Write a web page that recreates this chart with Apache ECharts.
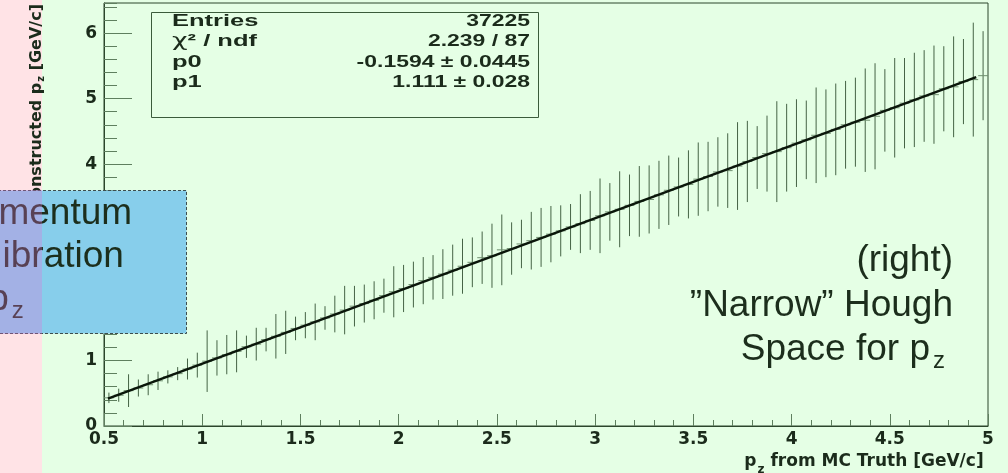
<!DOCTYPE html>
<html><head><meta charset="utf-8">
<script src="https://cdn.jsdelivr.net/npm/echarts@6/dist/echarts.min.js"></script>
<style>html,body{margin:0;padding:0;background:#e5ffe5;}#c{width:1008px;height:473px;}</style>
</head><body><div id="c"></div>
<script>
// ---- data ----
const binCenters = [
 0.525,0.575,0.625,0.675,0.725,0.775,0.825,0.875,0.925,0.975,
 1.025,1.075,1.125,1.175,1.225,1.275,1.325,1.375,1.425,1.475,
 1.525,1.575,1.625,1.675,1.725,1.775,1.825,1.875,1.925,1.975,
 2.025,2.075,2.125,2.175,2.225,2.275,2.325,2.375,2.425,2.475,
 2.525,2.575,2.625,2.675,2.725,2.775,2.825,2.875,2.925,2.975,
 3.025,3.075,3.125,3.175,3.225,3.275,3.325,3.375,3.425,3.475,
 3.525,3.575,3.625,3.675,3.725,3.775,3.825,3.875,3.925,3.975,
 4.025,4.075,4.125,4.175,4.225,4.275,4.325,4.375,4.425,4.475,
 4.525,4.575,4.625,4.675,4.725,4.775,4.825,4.875,4.925,4.975];
const means = [
 0.43,0.47,0.54,0.58,0.63,0.69,0.75,0.80,0.87,0.93,
 0.99,1.04,1.09,1.14,1.21,1.25,1.32,1.37,1.43,1.49,
 1.54,1.59,1.65,1.71,1.77,1.83,1.87,1.92,1.99,2.05,
 2.10,2.16,2.22,2.27,2.32,2.38,2.44,2.50,2.57,2.60,
 2.69,2.71,2.78,2.83,2.88,2.93,2.98,3.04,3.09,3.14,
 3.21,3.27,3.31,3.37,3.43,3.46,3.53,3.60,3.65,3.69,
 3.77,3.81,3.88,3.90,3.97,4.04,4.10,4.16,4.19,4.25,
 4.32,4.37,4.44,4.47,4.53,4.60,4.64,4.67,4.73,4.82,
 4.86,4.93,4.98,5.04,5.06,5.15,5.18,5.26,5.29,5.35];
const errors = [
 0.08,0.10,0.25,0.13,0.16,0.14,0.10,0.10,0.16,0.19,
 0.47,0.27,0.30,0.32,0.17,0.25,0.18,0.34,0.33,0.18,
 0.20,0.28,0.18,0.28,0.37,0.31,0.29,0.29,0.26,0.39,
 0.36,0.35,0.36,0.34,0.38,0.39,0.42,0.38,0.40,0.49,
 0.54,0.40,0.37,0.44,0.45,0.43,0.39,0.35,0.45,0.45,
 0.57,0.44,0.58,0.47,0.54,0.52,0.52,0.53,0.45,0.52,
 0.56,0.53,0.53,0.57,0.67,0.62,0.48,0.58,0.77,0.67,
 0.67,0.60,0.73,0.67,0.70,0.67,0.68,0.79,0.81,0.63,
 0.76,0.69,0.72,0.70,0.75,0.65,0.77,0.65,0.87,0.68];
const fitLine = [[0.52, 0.418], [4.94, 5.329]];
const statLabels = ['Entries', '{c|\u03c7}\u00b2 / ndf', 'p0', 'p1'];
const statValues = ['37225', '2.239 / 87', '-0.1594 \u00b1 0.0445', '1.111 \u00b1 0.028'];
const leftNote = ['Momentum', 'Calibration', 'of p{z|z}'];
const rightNote = ['(right)', '\u201dNarrow\u201d Hough', 'Space for p{z|z}'];

// ---- chart ----
const dark = '#1b2b1b';
const tickCol = '#5f7f5f';
const frameCol = '#2c462c';
const boldDV = {fontFamily: 'DejaVu Sans', fontWeight: 'bold'};
const chart = echarts.init(document.getElementById('c'), null, {renderer: 'canvas'});

const points = binCenters.map((x, i) => [x, means[i], errors[i]]);

const statEls = [];
const rowY = [21, 41.5, 62, 82.5];
statLabels.forEach((t, i) => {
  statEls.push({type: 'text', x: 172, y: rowY[i], scaleX: 1.5, z: 40,
    style: {text: t, font: 'bold 17px "Liberation Sans"', fill: dark, verticalAlign: 'middle', align: 'left',
      rich: {c: {font: 'normal 18px "DejaVu Sans"', fill: dark}}}});
  statEls.push({type: 'text', x: 530, y: rowY[i], scaleX: 1.35, z: 40,
    style: {text: statValues[i], font: 'bold 17px "Liberation Sans"', fill: dark, verticalAlign: 'middle', align: 'right'}});
});

const noteFont = 'normal 37px "Liberation Sans"';
const noteRich = {z: {font: 'normal 24px "Liberation Sans"', fill: '#1c2e1c', padding: [22, 0, 0, 3]}};
const leftY = [214, 257, 300];
const rightY = [261, 306, 350];
const rightX = [953, 953, 945];
const noteEls = [];
leftNote.forEach((t, i) => noteEls.push({type: 'text', x: -53, y: leftY[i], z: 52,
  style: {text: t, font: noteFont, fill: '#1c2e1c', verticalAlign: 'middle', align: 'left', rich: noteRich}}));
rightNote.forEach((t, i) => noteEls.push({type: 'text', x: rightX[i], y: rightY[i], z: 52,
  style: {text: t, font: noteFont, fill: '#1c2e1c', verticalAlign: 'middle', align: 'right', rich: noteRich}}));

const option = {
  backgroundColor: '#e5ffe5',
  animation: false,
  grid: {left: 104, right: 20, top: 3, bottom: 47, containLabel: false, outerBoundsMode: 'none',
    show: true, borderColor: frameCol, borderWidth: 1, backgroundColor: 'transparent'},
  xAxis: {
    type: 'value', min: 0.5, max: 5, interval: 0.5,
    axisLine: {show: true, onZero: false, lineStyle: {color: frameCol, width: 1}},
    axisTick: {show: true, inside: true, length: 12, lineStyle: {color: tickCol}},
    minorTick: {show: true, splitNumber: 5, length: 6, lineStyle: {color: tickCol}},
    splitLine: {show: false}, minorSplitLine: {show: false},
    axisLabel: Object.assign({fontSize: 17, color: dark, margin: 5}, boldDV),
    name: '{p|p}{z|z} from MC Truth [GeV/c]', nameLocation: 'middle', nameGap: 18,
    nameTextStyle: Object.assign({fontSize: 17, color: dark, padding: [0, 0, 0, 636],
      rich: {p: Object.assign({fontSize: 17, color: dark}, boldDV),
             z: Object.assign({fontSize: 12, color: dark, padding: [16, 0, 0, 1]}, boldDV)}}, boldDV)
  },
  yAxis: [{
    type: 'value', min: 0, max: 6.46, interval: 1, position: 'left',
    axisLine: {show: true, onZero: false, lineStyle: {color: frameCol, width: 1}},
    axisTick: {show: true, inside: true, length: 28, lineStyle: {color: tickCol}},
    splitLine: {show: false},
    axisLabel: Object.assign({fontSize: 17, color: dark, margin: 7, showMaxLabel: false}, boldDV),
    name: 'Reconstructed p{z|z} [GeV/c]', nameLocation: 'end', nameRotate: 90, nameGap: -1,
    nameTextStyle: Object.assign({fontSize: 16, color: dark, align: 'right', verticalAlign: 'middle', padding: [0, 0, 134, 0],
      rich: {z: Object.assign({fontSize: 10, color: dark, padding: [8, 0, 0, 1]}, boldDV)}}, boldDV)
  }, {
    type: 'value', min: 0, max: 6.46, interval: 0.2, position: 'left',
    axisLine: {show: false},
    axisTick: {show: true, inside: true, length: 13, lineStyle: {color: tickCol}},
    axisLabel: {show: false}, splitLine: {show: false}
  }],
  series: [{
    type: 'custom', name: 'profile', xAxisIndex: 0, yAxisIndex: 0, z: 3,
    data: points,
    renderItem: function (params, api) {
      const x = api.value(0), m = api.value(1), e = api.value(2);
      const t = api.coord([x, m + e]), b = api.coord([x, m - e]);
      const l = api.coord([x - 0.025, m]), r = api.coord([x + 0.025, m]);
      return {type: 'group', children: [
        {type: 'line', shape: {x1: t[0], y1: t[1], x2: b[0], y2: b[1]}, style: {stroke: '#456345', lineWidth: 1}},
        {type: 'line', shape: {x1: l[0], y1: l[1], x2: r[0], y2: r[1]}, style: {stroke: '#6f8f6f', lineWidth: 1}}
      ]};
    }
  }, {
    type: 'line', name: 'fit', data: fitLine, xAxisIndex: 0, yAxisIndex: 0, z: 5,
    showSymbol: false, symbol: 'none', lineStyle: {color: '#0a160a', width: 2.5}
  }],
  graphic: {elements: [
    {type: 'rect', z: -10, shape: {x: 0, y: 0, width: 42, height: 473}, style: {fill: '#ffe3e6'}},
    {type: 'rect', z: 40, shape: {x: 151.5, y: 12.5, width: 387, height: 105}, style: {fill: 'rgba(0,0,0,0)', stroke: '#3b5b3b', lineWidth: 1}},
    ...statEls,
    {type: 'rect', z: 50, shape: {x: -2, y: 190.5, width: 188.5, height: 143}, style: {fill: '#87ceeb', stroke: '#3d4d4d', lineWidth: 1, lineDash: [3, 2]}},
    ...noteEls,
    {type: 'rect', z: 60, shape: {x: 0, y: 190, width: 42, height: 144}, style: {fill: 'rgba(230,110,215,0.3)'}}
  ]}
};
chart.setOption(option);
</script>
</body></html>
